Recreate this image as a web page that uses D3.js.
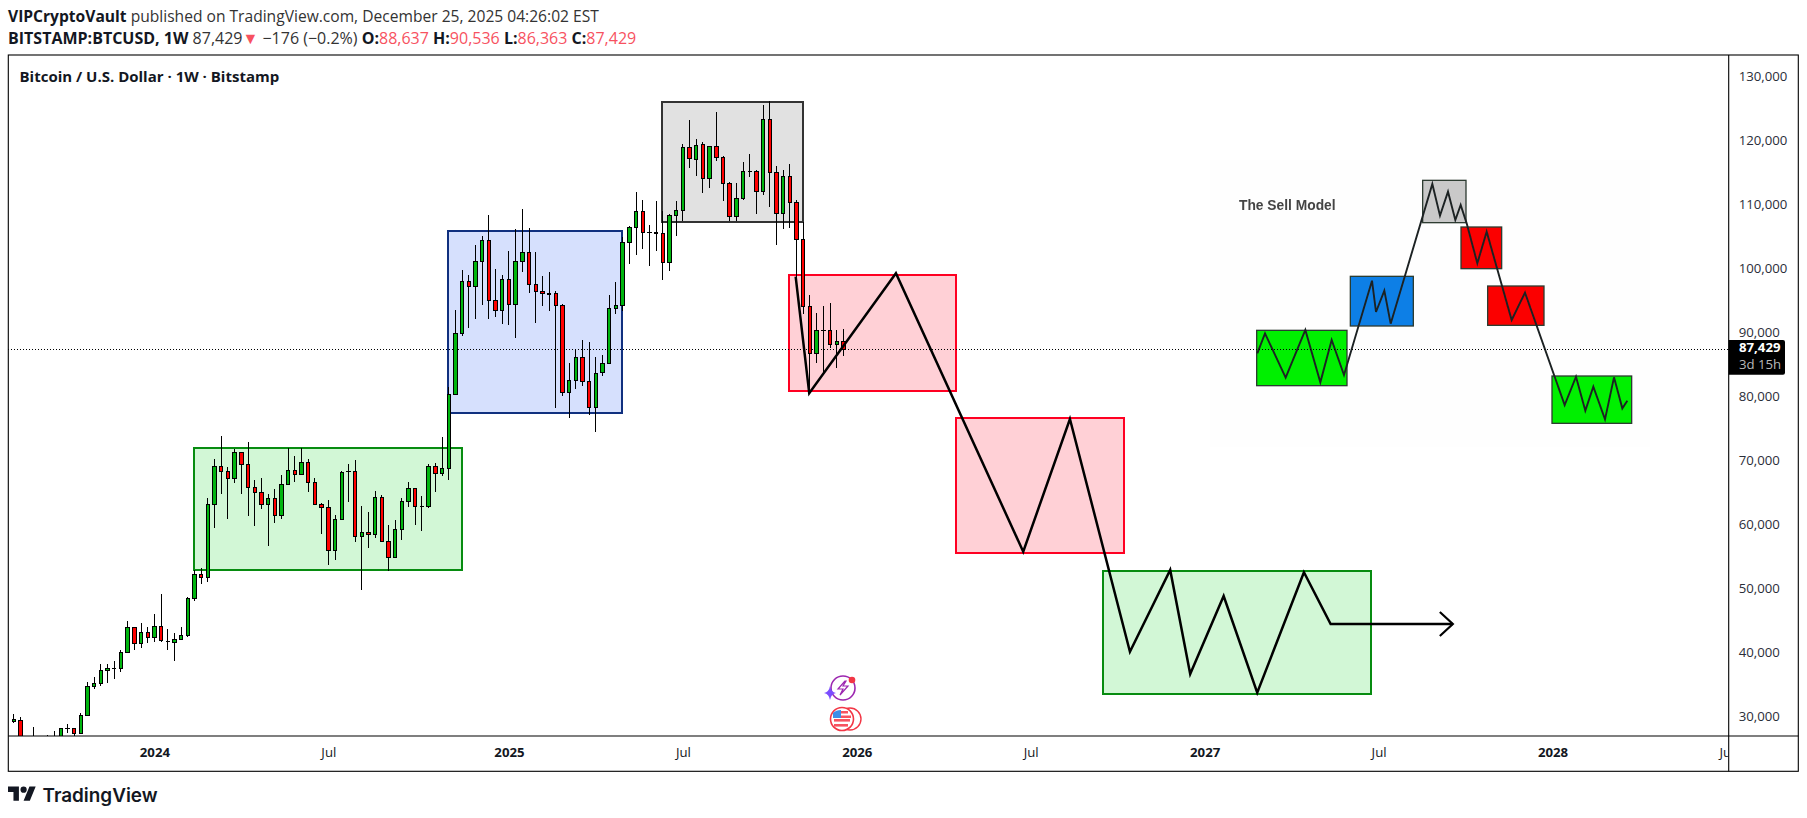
<!DOCTYPE html>
<meta charset="utf-8">
<style>
  html, body { margin: 0; background: #fff; }
  text { font-family: "Open Sans", sans-serif; }
</style>

<!-- Load d3.js -->
<script src="https://cdn.jsdelivr.net/npm/d3@7"></script>

<div id="my_dataviz"></div>

<script>
// Weekly BTCUSD candles, one entry per week. Week 0 is 2023-08-07, week 21 is 2024-01-01
var opens = [29190,29450,26000,26500,26900,26500,26900,26900,28150,28200,27420,30230,34710,35230,37263,37560,37575,40075,43980,41480,43200,
  42420,44137,41780,41637,42106,42730,48512,52262,51793,63199,69136,68355,67261,71323,69448,65855,65074,63199,64136,61428,66324,68511,67886,69761,66636,63199,62730,56012,60855,
  68340,68355,58199,58824,58511,64292,57418,54918,59293,63668,65699,62870,62886,69136,68042,68823,80388,89918,98043,97262,101168,104449,95074,93512,98355,94449,101168,102574,97574,96481,
  96168,96168,94293,80700,82575,86169,82418,78304,83825,85231,93824,94293,104136,106480,108981,105700,105700,105492,101012,108356,109137,118980,117105,119449,114137,119136,
  117418,113356,108200,111012,115215,115230,112106,123355,115074,108668,114449,110387,104606,94136,86793,90380,90386,88199,88637];
var highs = [30440,29920,26900,28410,26950,27160,27780,28200,28880,28200,30545,35440,36220,38200,38200,38670,40440,44920,43980,44605,
  43980,46013,49190,43670,43045,43980,48670,52940,53200,64136,70230,73875,68980,71792,71323,72886,66948,67261,64760,65542,67730,71948,70698,71948,70230,67261,63355,63824,61480,
  68355,69448,70073,62886,61949,65230,64605,59918,60699,64136,66636,65699,64448,69448,69605,73667,81481,93564,99761,98980,103668,105074,108407,99918,98980,102730,106167,109350,106324,102574,
  98824,99449,96481,94449,85231,87419,88825,88512,86169,86481,95856,97887,104917,106636,111949,110699,106794,110543,108981,108512,110543,119449,123199,120230,119761,119136,
  124449,117574,113512,113356,116637,117887,115387,125542,126167,116012,115387,116324,110699,107366,95855,93042,94136,94605,90386,90536];
var lows = [28980,25200,25400,26000,26000,26100,26500,26600,27520,26700,27300,30150,34400,34866,35335,35960,37055,40000,40490,40805,41585,
  41742,41742,40490,38773,42100,42523,48044,50803,51116,59553,64760,60959,66584,64760,61428,59865,62522,56740,60334,60959,66324,66740,67886,65178,63199,58616,53772,54554,60855,
  63615,57366,49866,56428,57991,57418,52835,54918,57678,62834,60022,59084,62678,65178,67678,67053,80388,89554,90804,92210,94397,92210,92522,91429,91272,89241,99553,96272,91585,
  94241,93460,78304,80180,76742,81273,81742,77211,74555,83304,85231,92991,93460,100803,102210,103148,100492,102836,98305,99711,105179,107418,115803,114553,111897,112679,
  116897,110647,107418,107418,110699,114397,108616,111585,109710,103668,106169,106325,98770,92990,81064,85231,83668,87574,84553,86363];
var closes = [29500,26500,26600,26900,26500,26950,26950,28200,28220,27420,30230,34760,35230,37263,37575,37590,40075,43980,41480,43200,42420,
  44137,41950,41800,42106,42730,48512,52262,51793,63199,69136,68355,67261,71323,69448,65855,65074,63199,64136,61428,66324,68511,67886,69761,66636,63199,62730,56012,60855,68198,
  68370,58199,58824,58511,64292,57418,54918,59293,63668,65699,62886,62890,69136,68042,68823,80388,89918,98043,97262,101168,104449,95074,93512,98355,94449,101168,102574,97574,96481,96168,
  95960,94293,80700,82575,86169,82418,78304,83669,85231,93824,94293,104136,106480,108981,105700,105710,105492,101012,108356,109137,118980,117262,119293,114137,119136,117418,
  113356,108200,111012,115230,115245,112106,123355,115074,108668,114449,110387,104606,94136,86793,90386,90395,88199,88668,87429];

// Tick labels of the two axes
var priceTicks = [30000,40000,50000,60000,70000,80000,90000,100000,110000,120000,130000];
var timeTickWeeks = [21,47,74,100,126,152,178,204,230,256];
var timeTickLabels = ["2024","Jul","2025","Jul","2026","Jul","2027","Jul","2028","Jul"];

var lastPrice = 87429;

// Drawn rectangles, in weeks and dollars
var boxWeekStart = [26.92,64.89,96.92,115.86,140.82,162.75];
var boxWeekEnd   = [66.98,90.9,117.95,140.82,165.93,202.9];
var boxPriceTop  = [72000,105906,126063,99031,76688,52734];
var boxPriceBot  = [52984,77516,107359,80906,55594,33563];
var boxKind      = ["green","blue","gray","red","red","green"];

// Projected path drawn over the chart
var pathWeeks  = [116.86,118.89,131.85,150.88,157.86,166.83,172.85,175.84,180.84,185.86,192.84,196.83,215.1];
var pathPrices = [98766,80547,99297,55797,76531,40172,52938,36688,48875,33766,52578,44500,44500];

// "The Sell Model" picture pasted on the chart, in its own units
var insetBoxX0 = [668,783,863,451,170,1056];
var insetBoxY0 = [61,201,378,349,511,648];
var insetBoxX1 = [798,905,1032,640,441,1295];
var insetBoxY1 = [188,326,496,498,677,790];
var insetBoxFill = ["#c9c9c9","#fb0000","#fb0000","#0f7fe6","#00f000","#00f000"];
var insetLineX = [172,195,257,316,361,395,432,516,528,553,572,697,720,744,766,782,800,832,860,935,975,1094,1128,1156,1180,1215,1242,1267,1282];
var insetLineY = [580,520,653,510,667,540,645,362,456,392,491,72,167,95,180,135,190,310,215,480,398,735,650,752,680,778,652,745,722];

var width = 1807, height = 818;
var plot = {left: 8.3, right: 1728.7, top: 55, bottom: 736, axisBottom: 771.3, axisRight: 1798.3};

var svg = d3.select("#my_dataviz")
  .append("svg")
    .attr("width", width)
    .attr("height", height)
    .style("display", "block");

// Scales
var x = d3.scaleLinear().domain([21, 126]).range([154.4, 856.8]);
var y = d3.scaleLinear().domain([27000, 133400]).range([plot.bottom, plot.top]);
var insetX = d3.scaleLinear().domain([0, 1380]).range([1200, 1660]);
var insetY = d3.scaleLinear().domain([0, 870]).range([160, 450]);

var defs = svg.append("defs");
defs.append("clipPath").attr("id", "plotClip").append("rect")
  .attr("x", plot.left).attr("y", plot.top)
  .attr("width", plot.right - plot.left).attr("height", plot.bottom - plot.top);
defs.append("clipPath").attr("id", "timeClip").append("rect")
  .attr("x", plot.left).attr("y", plot.bottom)
  .attr("width", plot.right - plot.left).attr("height", plot.axisBottom - plot.bottom);
defs.append("filter").attr("id", "soft").append("feGaussianBlur").attr("stdDeviation", 0.45);

// Header lines
var red = "#f7525f";
svg.append("text").attr("x", 8).attr("y", 22).style("font-size", "15.6px").style("fill", "#131722")
  .call(function(t) {
    t.append("tspan").style("font-weight", 700).text("VIPCryptoVault");
    t.append("tspan").style("fill", "#333").text(" published on TradingView.com, December 25, 2025 04:26:02 EST");
  });
var header = [
  ["BITSTAMP:BTCUSD, 1W ", 700, "#131722"], ["87,429", 400, "#333"], ["▼", 400, red], [" −176 (−0.2%) ", 400, "#333"],
  ["O:", 700, "#131722"], ["88,637 ", 400, red], ["H:", 700, "#131722"], ["90,536 ", 400, red],
  ["L:", 700, "#131722"], ["86,363 ", 400, red], ["C:", 700, "#131722"], ["87,429", 400, red]
];
svg.append("text").attr("x", 8).attr("y", 44).style("font-size", "16px")
  .selectAll("tspan").data(header).enter().append("tspan")
    .style("font-weight", function(d) { return d[1]; })
    .style("fill", function(d) { return d[2]; })
    .text(function(d) { return d[0]; });

var chart = svg.append("g").attr("clip-path", "url(#plotClip)");

// Rectangles behind the candles
var boxStyle = {
  green: {fill: "#d2f7d6", stroke: "#078c10"},
  blue:  {fill: "#d6e0fd", stroke: "#10307f"},
  gray:  {fill: "#e1e1e1", stroke: "#333333"},
  red:   {fill: "#ffd0d6", stroke: "#ff0022"}
};
chart.selectAll("rect.box")
  .data(boxKind)
  .enter()
  .append("rect")
    .attr("class", "box")
    .attr("x", function(d, i) { return x(boxWeekStart[i]); })
    .attr("y", function(d, i) { return y(boxPriceTop[i]); })
    .attr("width", function(d, i) { return x(boxWeekEnd[i]) - x(boxWeekStart[i]); })
    .attr("height", function(d, i) { return y(boxPriceBot[i]) - y(boxPriceTop[i]); })
    .style("fill", function(d) { return boxStyle[d].fill; })
    .style("stroke", function(d) { return boxStyle[d].stroke; })
    .style("stroke-width", 2)
    .style("shape-rendering", "crispEdges");

// The pasted picture
var inset = chart.append("g").attr("filter", "url(#soft)");
inset.append("rect")
  .attr("x", insetX(30)).attr("y", insetY(0))
  .attr("width", insetX(1350) - insetX(30)).attr("height", insetY(860) - insetY(0))
  .style("fill", "#fefefe");
inset.selectAll("rect.ibox")
  .data(insetBoxFill)
  .enter()
  .append("rect")
    .attr("class", "ibox")
    .attr("x", function(d, i) { return insetX(insetBoxX0[i]); })
    .attr("y", function(d, i) { return insetY(insetBoxY0[i]); })
    .attr("width", function(d, i) { return insetX(insetBoxX1[i]) - insetX(insetBoxX0[i]); })
    .attr("height", function(d, i) { return insetY(insetBoxY1[i]) - insetY(insetBoxY0[i]); })
    .style("fill", function(d) { return d; })
    .style("stroke", "#2c3a30")
    .style("stroke-width", 1.3);
inset.append("path")
  .attr("d", d3.line()
    .x(function(d, i) { return insetX(d); })
    .y(function(d, i) { return insetY(insetLineY[i]); })(insetLineX))
  .style("fill", "none")
  .style("stroke", "#1c2224")
  .style("stroke-width", 1.9);
inset.append("text")
  .attr("x", insetX(117)).attr("y", insetY(136)).attr("dy", "0.35em")
  .style("font-family", "'Liberation Sans', sans-serif")
  .style("font-weight", 700).style("font-size", "13.8px").style("fill", "#444")
  .text("The Sell Model");

// Last price line
chart.append("line")
  .attr("x1", plot.left).attr("x2", plot.right)
  .attr("y1", y(lastPrice)).attr("y2", y(lastPrice))
  .style("stroke", "#000").style("stroke-width", 1).style("stroke-dasharray", "1 2")
  .style("shape-rendering", "crispEdges");

// Candles
var candles = chart.selectAll("g.candle")
  .data(opens)
  .enter()
  .append("g")
    .attr("class", "candle")
    .style("shape-rendering", "crispEdges");
candles.append("line")
  .attr("x1", function(d, i) { return x(i); })
  .attr("x2", function(d, i) { return x(i); })
  .attr("y1", function(d, i) { return y(highs[i]); })
  .attr("y2", function(d, i) { return y(lows[i]); })
  .style("stroke", "#000").style("stroke-width", 1);
candles.append("rect")
  .attr("x", function(d, i) { return x(i) - 1.7; })
  .attr("width", 3.4)
  .attr("y", function(d, i) { return y(Math.max(d, closes[i])); })
  .attr("height", function(d, i) { return Math.abs(y(d) - y(closes[i])); })
  .style("fill", function(d, i) { return closes[i] >= d ? "#00b50f" : "#ff0000"; })
  .style("stroke", "#000").style("stroke-width", 1);

// Projected path, then the arrow head at its end
chart.append("path")
  .attr("d", d3.line()
    .x(function(d) { return x(d); })
    .y(function(d, i) { return y(pathPrices[i]); })(pathWeeks))
  .style("fill", "none").style("stroke", "#000")
  .style("stroke-width", 2.5).style("stroke-linejoin", "miter");
var tipX = x(pathWeeks[pathWeeks.length - 1]), tipY = y(pathPrices[pathPrices.length - 1]);
chart.append("path")
  .attr("d", "M" + (tipX - 13) + "," + (tipY - 12) + "L" + tipX + "," + tipY + "L" + (tipX - 13) + "," + (tipY + 12))
  .style("fill", "none").style("stroke", "#000").style("stroke-width", 2.2);

// Chart title
svg.append("text").attr("x", 19.5).attr("y", 82)
  .style("font-weight", 700).style("font-size", "15px").style("fill", "#131722")
  .text("Bitcoin / U.S. Dollar · 1W · Bitstamp");

// Marks near the bottom of the pane: the lightning badge and the flag coin
var badge = svg.append("g").attr("transform", "translate(843,688)");
badge.append("circle").attr("r", 12).style("fill", "#fff").style("stroke", "#9c27b0").style("stroke-width", 1.6);
badge.append("path").attr("d", "M2,-7L-5,1H0L-3,7L5,-2H0L3,-7Z")
  .style("fill", "#fff").style("stroke", "#9c27b0").style("stroke-width", 1.2);
badge.append("circle").attr("cx", 9).attr("cy", -8).attr("r", 3.3).style("fill", "#f23645");
badge.append("path").attr("d", "M-13,-2Q-12,4 -7,5Q-12,6 -13,12Q-14,6 -19,5Q-14,4 -13,-2Z").style("fill", "#7b4dff");

var coin = svg.append("g").attr("transform", "translate(842,719)");
coin.append("circle").attr("cx", 8).attr("r", 11).style("fill", "#fff").style("stroke", "#f23645").style("stroke-width", 1.4);
coin.append("circle").attr("r", 11.5).style("fill", "#fff").style("stroke", "#f23645").style("stroke-width", 1.6);
coin.append("rect").attr("x", -8).attr("y", 0).attr("width", 16).attr("height", 2.6).style("fill", "#f7525f");
coin.append("rect").attr("x", -8).attr("y", 5).attr("width", 14).attr("height", 2.6).style("fill", "#f7525f");
coin.append("path").attr("d", "M-9,-1V-6Q-6,-9 -1,-9V-1Z").style("fill", "#3d8ee8");
coin.append("path").attr("d", "M-1,-8H6V-5.5H-1ZM-1,-3.5H9V-1H-1Z").style("fill", "#f7525f");

// Frame of the pane and the axes
svg.append("rect")
  .attr("x", plot.left).attr("y", plot.top)
  .attr("width", plot.axisRight - plot.left).attr("height", plot.axisBottom - plot.top)
  .style("fill", "none").style("stroke", "#000").style("stroke-width", 1.1);
svg.append("line").attr("x1", plot.right).attr("x2", plot.right)
  .attr("y1", plot.top).attr("y2", plot.axisBottom)
  .style("stroke", "#000").style("stroke-width", 1.1);
svg.append("line").attr("x1", plot.left).attr("x2", plot.axisRight)
  .attr("y1", plot.bottom).attr("y2", plot.bottom)
  .style("stroke", "#000").style("stroke-width", 1.1);

var priceAxis = svg.append("g")
  .attr("transform", "translate(" + plot.right + ",0)")
  .call(d3.axisRight(y).tickValues(priceTicks).tickSize(0).tickPadding(10).tickFormat(d3.format(",")));
priceAxis.select(".domain").remove();
priceAxis.selectAll("text")
  .attr("dy", "0.25em")
  .style("font-family", "'Open Sans', sans-serif").style("font-size", "13.2px").style("fill", "#2a2e39");

var timeAxis = svg.append("g")
  .attr("clip-path", "url(#timeClip)")
  .append("g")
    .attr("transform", "translate(0," + plot.bottom + ")")
    .call(d3.axisBottom(x).tickValues(timeTickWeeks).tickSize(0).tickPadding(11.5)
      .tickFormat(function(d, i) { return timeTickLabels[i]; }));
timeAxis.select(".domain").remove();
timeAxis.selectAll("text")
  .style("font-family", "'Open Sans', sans-serif").style("font-size", "13.2px")
  .style("fill", "#131722")
  .style("font-weight", function(d, i) { return timeTickLabels[i] === "Jul" ? 400 : 700; });

// Last price tag
var tagY = y(lastPrice);
svg.append("path")
  .attr("d", "M" + plot.right + "," + (tagY - 9.3) + "H1783a2,2 0 0 1 2,2V" + (tagY + 23.4) + "a2,2 0 0 1 -2,2H" + plot.right + "Z")
  .style("fill", "#000");
svg.append("text").attr("x", 1739).attr("y", tagY + 3)
  .style("font-weight", 700).style("font-size", "13.2px").style("fill", "#fff")
  .text(d3.format(",")(lastPrice));
svg.append("text").attr("x", 1739).attr("y", tagY + 19.5)
  .style("font-size", "13.2px").style("fill", "#b8b8b8")
  .text("3d 15h");

// TradingView mark
var logo = svg.append("g").attr("transform", "translate(8,783.5) scale(0.78)").style("fill", "#131722");
logo.append("path").attr("d", "M14 22H7V11H0V4h14v18zM28 22h-8l7.5-18h8L28 22z");
logo.append("circle").attr("cx", 20).attr("cy", 8).attr("r", 4);
svg.append("text").attr("x", 42.5).attr("y", 801.5)
  .style("font-family", "Inter, sans-serif").style("font-weight", 600).style("font-size", "18.9px").style("fill", "#131722")
  .text("TradingView");
</script>
